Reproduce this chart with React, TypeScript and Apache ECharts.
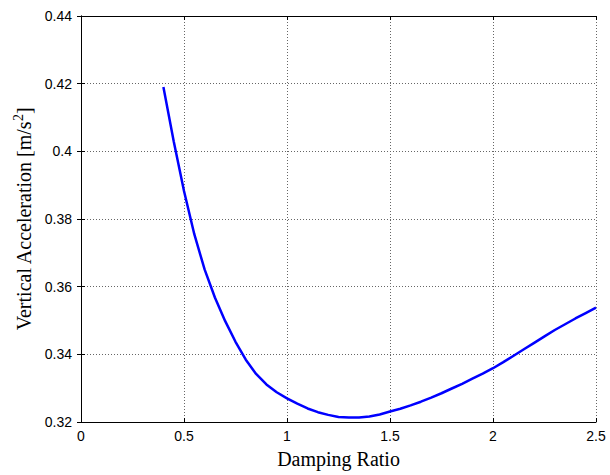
import React, { useEffect, useRef } from "react";
import * as echarts from "echarts";

const dampingRatio = [
  0.4, 0.45, 0.5, 0.55, 0.6, 0.65, 0.7, 0.75, 0.8, 0.85, 0.9, 0.95, 1.0,
  1.05, 1.1, 1.15, 1.2, 1.25, 1.3, 1.35, 1.4, 1.45, 1.5, 1.55, 1.6, 1.65,
  1.7, 1.75, 1.8, 1.85, 1.9, 1.95, 2.0, 2.05, 2.1, 2.15, 2.2, 2.25, 2.3,
  2.35, 2.4, 2.45, 2.5,
];
const verticalAcceleration = [
  0.419, 0.403, 0.3883, 0.3755, 0.3651, 0.3568, 0.3498, 0.3437, 0.3384,
  0.3342, 0.3311, 0.3288, 0.327, 0.3254, 0.324, 0.3229, 0.3221, 0.3215,
  0.3213, 0.3213, 0.3216, 0.3222, 0.3231, 0.3239, 0.3249, 0.326, 0.3272,
  0.3285, 0.3299, 0.3313, 0.3328, 0.3343, 0.3359, 0.3377, 0.3396, 0.3415,
  0.3434, 0.3453, 0.3472, 0.3489, 0.3506, 0.3522, 0.3538,
];
const xTicks = { min: 0, max: 2.5, interval: 0.5 };
const yTicks = { min: 0.32, max: 0.44, interval: 0.02 };

const fmt = (v: number) => String(parseFloat(v.toFixed(2)));

export default function App() {
  const ref = useRef<HTMLDivElement>(null);
  useEffect(() => {
    document.body.style.margin = "0";
    const chart = echarts.init(ref.current!, null, { renderer: "svg" });
    const serif = "Liberation Serif, Times New Roman, serif";
    const tickFont = { fontFamily: "Liberation Sans, Arial, sans-serif", fontSize: 14, color: "#000" };
    const axisLine = { show: true, lineStyle: { color: "#000", width: 1 } };
    const axisTick = { show: true, inside: true, length: 4, lineStyle: { color: "#000" } };
    const splitLine = { show: true, lineStyle: { color: "#666", type: [1, 2] as any, width: 1 } };
    chart.setOption({
      animation: false,
      backgroundColor: "#fff",
      grid: { left: 81, right: 14, top: 16, bottom: 53, containLabel: false },
      xAxis: [
        {
          type: "value",
          ...xTicks,
          axisLine,
          axisTick,
          splitLine,
          axisLabel: { ...tickFont, margin: 7, formatter: fmt },
          name: "Damping Ratio",
          nameLocation: "middle",
          nameGap: 27,
          nameTextStyle: { fontFamily: serif, fontSize: 20, color: "#000" },
        },
        {
          type: "value",
          position: "top",
          ...xTicks,
          axisLine,
          axisTick,
          splitLine: { show: false },
          axisLabel: { show: false },
        },
      ],
      yAxis: [
        {
          type: "value",
          ...yTicks,
          axisLine,
          axisTick,
          splitLine,
          axisLabel: { ...tickFont, margin: 9, formatter: fmt },
          name: "Vertical Acceleration [m/s{sup|2}]",
          nameLocation: "middle",
          nameGap: 45,
          nameTextStyle: {
            fontFamily: serif,
            fontSize: 20,
            color: "#000",
            rich: {
              sup: {
                fontFamily: serif,
                fontSize: 14,
                color: "#000",
                verticalAlign: "top",
                padding: [0, 0, 10, 0],
              },
            },
          },
        },
        {
          type: "value",
          position: "right",
          ...yTicks,
          axisLine,
          axisTick,
          splitLine: { show: false },
          axisLabel: { show: false },
        },
      ],
      series: [
        {
          type: "line",
          data: dampingRatio.map((x, i) => [x, verticalAcceleration[i]]),
          showSymbol: false,
          smooth: false,
          lineStyle: { color: "#0000ff", width: 2.5 },
          itemStyle: { color: "#0000ff" },
        },
      ],
    });
    return () => chart.dispose();
  }, []);
  return <div ref={ref} style={{ width: 610, height: 475 }} />;
}
